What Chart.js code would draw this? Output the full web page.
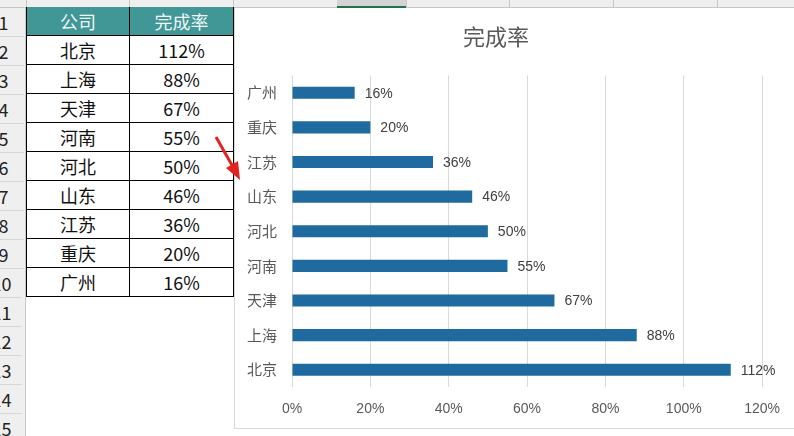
<!DOCTYPE html>
<html>
<head>
<meta charset="utf-8">
<script src="https://cdn.jsdelivr.net/npm/chart.js@4.4.1/dist/chart.umd.min.js"></script>
<style>
  html, body { margin:0; padding:0; background:#fff; }
  body { width:794px; height:436px; overflow:hidden; position:relative; font-family:"Noto Sans CJK SC", sans-serif; }
  #colhdr { position:absolute; left:0; top:0; width:794px; height:7px; background:#efefef; border-bottom:1px solid #c8c8c8; }
  .csep { position:absolute; top:0; width:1px; height:7px; background:#c8c8c8; }
  #selcol { position:absolute; left:337px; top:0; width:69px; height:6px; background:#d4d4d4; border-bottom:2px solid #217346; }
  #rowhdr { position:absolute; left:0; top:8px; width:25px; height:430px; background:#efefef; border-right:1px solid #c8c8c8; overflow:hidden; }
  .rn { position:absolute; left:-19px; width:41px; height:29px; line-height:29px; text-align:center; font-family:"Noto Sans CJK SC", sans-serif; font-size:18px; color:#222; border-bottom:1px solid #d6d6d6; box-sizing:border-box; }
  .rn.one { left:-17px; }
  #tbl { position:absolute; left:26px; top:7px; border-collapse:collapse; font-family:"Noto Sans CJK SC", sans-serif; font-size:18px; }
  #tbl td { height:28px; padding:0; text-align:center; border:1px solid #000; color:#111; line-height:28px; }
  #tbl td.c1 { width:102px; }
  #tbl td.c2 { width:103px; }
  #tbl tr.h td { background:#419696; color:#eef7f7; border-top:none; }
  #chartbox { position:absolute; left:234px; top:8px; width:600px; height:420px; background:#fff; border-left:1px solid #d9d9d9; border-bottom:1px solid #d9d9d9; }
  #cwrap { position:absolute; left:229px; top:8px; width:565px; height:420px; }
  #arrow { position:absolute; left:0; top:0; }
</style>
</head>
<body>
<div id="colhdr"></div>
<div id="selcol"></div>
<div id="rowhdr"></div>
<table id="tbl"></table>
<div id="chartbox"></div>
<div id="cwrap"><canvas id="c" width="565" height="420"></canvas></div>
<svg id="arrow" width="794" height="436">
  <line x1="216" y1="137" x2="233" y2="167" stroke="#e32222" stroke-width="3"/>
  <polygon points="240,180 226,168 238,161" fill="#e32222"/>
</svg>
<script>
const tableHeaders = ["公司", "完成率"];
const categories = ["北京", "上海", "天津", "河南", "河北", "山东", "江苏", "重庆", "广州"];
const values = [112, 88, 67, 55, 50, 46, 36, 20, 16];
const xTicks = [0, 20, 40, 60, 80, 100, 120];
const chartTitle = "完成率";

// spreadsheet column header separators
[26, 129, 233, 337, 406, 509, 613, 717].forEach(x => {
  const d = document.createElement('div'); d.className = 'csep'; d.style.left = x + 'px';
  document.getElementById('colhdr').appendChild(d);
});
// row numbers
const rh = document.getElementById('rowhdr');
for (let i = 1; i <= 15; i++) {
  const d = document.createElement('div'); d.className = i < 10 ? 'rn one' : 'rn';
  d.style.top = ((i - 1) * 29) + 'px'; d.textContent = i;
  rh.appendChild(d);
}
// table
const tbl = document.getElementById('tbl');
let html = '<tr class="h"><td class="c1">' + tableHeaders[0] + '</td><td class="c2">' + tableHeaders[1] + '</td></tr>';
categories.forEach((c, i) => { html += '<tr><td class="c1">' + c + '</td><td class="c2">' + values[i] + '%</td></tr>'; });
tbl.innerHTML = html;

const labelPlugin = {
  id: 'barLabels',
  afterDatasetsDraw(chart) {
    const ctx = chart.ctx;
    const meta = chart.getDatasetMeta(0);
    ctx.save();
    ctx.font = '14px "Liberation Sans", Arial, sans-serif';
    ctx.fillStyle = '#404040';
    ctx.textAlign = 'left';
    ctx.textBaseline = 'middle';
    meta.data.forEach((el, i) => {
      ctx.fillText(values[i] + '%', el.x + 10, el.y + 1);
    });
    ctx.restore();
  }
};

new Chart(document.getElementById('c'), {
  type: 'bar',
  data: {
    labels: categories,
    datasets: [{ data: values, backgroundColor: '#1f6a9e', borderWidth: 0, barPercentage: 0.35, categoryPercentage: 1 }]
  },
  options: {
    indexAxis: 'y',
    responsive: false,
    animation: false,
    layout: { padding: { left: 0, right: 31, top: 0, bottom: 0 } },
    plugins: {
      legend: { display: false },
      tooltip: { enabled: false },
      title: {
        display: true, text: chartTitle, color: '#595959',
        font: { family: '"Noto Sans CJK SC", sans-serif', size: 22, weight: 'normal' },
        padding: { top: 15, bottom: 26 }
      }
    },
    scales: {
      x: {
        min: 0, max: 120,
        afterBuildTicks(scale) { scale.ticks = xTicks.map(v => ({ value: v })); },
        afterFit(scale) { scale.height = 41; },
        grid: { color: '#d9d9d9', drawTicks: false, lineWidth: 1 },
        border: { display: false },
        ticks: {
          padding: 14, color: '#595959',
          font: { family: '"Liberation Sans", Arial, sans-serif', size: 14 },
          callback: v => v + '%'
        }
      },
      y: {
        reverse: true,
        afterFit(scale) { scale.width = 63; },
        grid: { display: false, drawTicks: false },
        border: { display: false },
        ticks: {
          padding: 15, color: '#595959',
          font: { family: '"Noto Sans CJK SC", sans-serif', size: 15 }
        }
      }
    }
  },
  plugins: [labelPlugin]
});
</script>
</body>
</html>
